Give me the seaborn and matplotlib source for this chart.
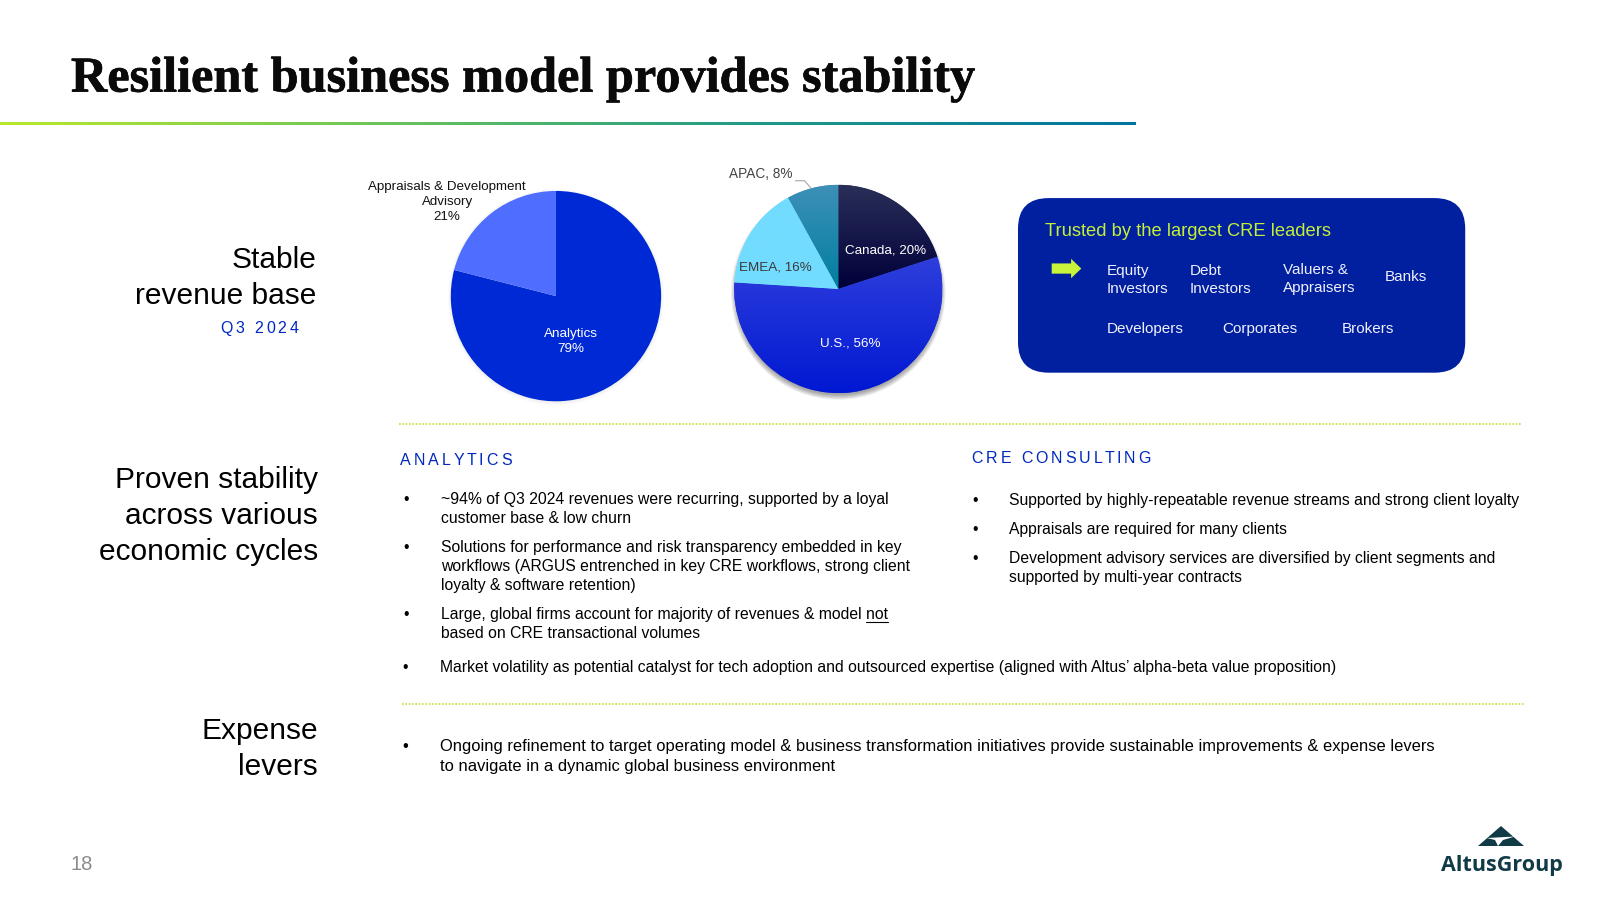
import numpy as np
import matplotlib
matplotlib.use("Agg")
import matplotlib.pyplot as plt
import matplotlib.patheffects as pe
import seaborn as sns
from matplotlib.colors import LinearSegmentedColormap
from matplotlib.font_manager import FontProperties
from matplotlib.patches import Circle, FancyBboxPatch, Polygon

# --- chart data ---
segment_names = ["Analytics", "Appraisals & Development\nAdvisory"]
segment_values = [79, 21]
segment_colors = ["#0029D6", "#4F6EFF"]

region_names = ["Canada", "U.S.", "EMEA", "APAC"]
region_values = [20, 56, 16, 8]
region_top = ["#2A2F58", "#2F3FDC", "#72DCFF", "#3E90B8"]
region_bottom = ["#00003A", "#0018D2", "#72DCFF", "#007FA0"]

title = "Resilient business model provides stability"
left_heads = [["Stable", "revenue base"],
              ["Proven stability", "across various", "economic cycles"],
              ["Expense", "levers"]]
clients_row1 = ["Equity\nInvestors", "Debt\nInvestors", "Valuers &\nAppraisers", "Banks"]
clients_row2 = ["Developers", "Corporates", "Brokers"]

analytics_bullets = [
    ["~94% of Q3 2024 revenues were recurring, supported by a loyal", "customer base & low churn"],
    ["Solutions for performance and risk transparency embedded in key",
     "workflows (ARGUS entrenched in key CRE workflows, strong client",
     "loyalty & software retention)"],
    ["Large, global firms account for majority of revenues & model not",
     "based on CRE transactional volumes"],
]
consulting_bullets = [
    ["Supported by highly-repeatable revenue streams and strong client loyalty"],
    ["Appraisals are required for many clients"],
    ["Development advisory services are diversified by client segments and",
     "supported by multi-year contracts"],
]
market_bullet = "Market volatility as potential catalyst for tech adoption and outsourced expertise (aligned with Altus\u2019 alpha-beta value proposition)"
expense_bullet = ["Ongoing refinement to target operating model & business transformation initiatives provide sustainable improvements & expense levers",
                  "to navigate in a dynamic global business environment"]

sns.set_theme(style="white")
plt.rcParams["font.family"] = ["Liberation Sans", "DejaVu Sans"]

W, H = 1600, 900
S = 1600 / 1567


def p(v):
    return v * S


fig = plt.figure(figsize=(16, 9), dpi=100, facecolor="white")


def pie_axes(cx, cy, r):
    ax = fig.add_axes([(p(cx) - p(r)) / W, 1 - (p(cy) + p(r)) / H, 2 * p(r) / W, 2 * p(r) / H])
    ax.set_xlim(-1, 1)
    ax.set_ylim(-1, 1)
    ax.axis("off")
    return ax


def soft_shadow(ax, dy, strength):
    for k in np.linspace(1.03, 0.98, 8):
        ax.add_patch(Circle((0, dy), k, color="black", alpha=strength, lw=0, clip_on=False))


# first pie
ax1 = pie_axes(544.5, 290, 103)
soft_shadow(ax1, -0.01, 0.012)
ax1.pie(segment_values, colors=segment_colors, startangle=90, counterclock=False, radius=1,
        frame=False, wedgeprops={"linewidth": 0})
ax1.set_xlim(-1, 1)
ax1.set_ylim(-1, 1)

# second pie, wedges filled with vertical gradients
ax2 = pie_axes(821, 283, 102)
soft_shadow(ax2, -0.035, 0.05)
wedges, _ = ax2.pie(region_values, colors=region_top, startangle=90, counterclock=False, radius=1,
                    frame=False, wedgeprops={"linewidth": 0})
for w, c_top, c_bot in zip(wedges, region_top, region_bottom):
    cmap = LinearSegmentedColormap.from_list("g", [c_bot, c_top])
    th = np.radians([w.theta1, w.theta2])
    angs = np.linspace(th[0], th[1], 30)
    ys = np.r_[np.sin(angs), 0]
    im = ax2.imshow(np.linspace(1, 0, 256)[:, None], cmap=cmap, vmin=0, vmax=1, aspect="auto",
                    extent=(-1, 1, ys.min(), ys.max()), zorder=2)
    im.set_clip_path(w)
ax2.set_xlim(-1, 1)
ax2.set_ylim(-1, 1)

# overlay in view coordinates for text and decoration
bg = fig.add_axes([0, 0, 1, 1], zorder=5)
bg.set_xlim(0, W)
bg.set_ylim(H, 0)
bg.axis("off")
bg.patch.set_visible(False)


def txt(x, y, s, size=12, color="black", ha="left", va="center", **kw):
    return bg.text(p(x), p(y), s, fontsize=size, color=color, ha=ha, va=va, **kw)


def tracked(x0, x1, y, s, size, color):
    # letterspaced heading, spacing worked out so the run ends near x1
    rend = fig.canvas.get_renderer()
    prop = FontProperties(family="Liberation Sans", size=size)

    def adv(t):
        a = rend.get_text_width_height_descent(t + "|", prop, False)[0]
        b = rend.get_text_width_height_descent("|", prop, False)[0]
        return a - b

    gap = (p(x1) - p(x0) - adv(s)) / (len(s) - 1)
    for i, ch in enumerate(s):
        bg.text(p(x0) + adv(s[:i]) + i * gap, p(y), ch, fontproperties=prop, color=color, va="center")


# title and rule
t = txt(69.5, 78, title, size=36.2, family="Liberation Serif", weight="bold", color="#0A0A0A")
t.set_path_effects([pe.withStroke(linewidth=0.5, foreground="#0A0A0A")])
rule = LinearSegmentedColormap.from_list("r", ["#B9E82B", "#6CC45A", "#1F9A88", "#00759F"])
bg.imshow(np.linspace(0, 1, 512)[None, :], cmap=rule, aspect="auto",
          extent=(0, p(1112), p(122), p(120)))
bg.set_xlim(0, W)
bg.set_ylim(H, 0)

# left heads
for lines, y0 in zip(left_heads, [255, 470, 716]):
    right = 310 if y0 == 255 else 311.5
    for i, line in enumerate(lines):
        txt(right, y0 + i * 35.3, line, size=21.5, ha="right")
tracked(216, 292, 322, "Q3 2024", 11.5, "#0029C0")

# pie labels
txt(559, 334, f"{segment_names[0]}\n{segment_values[0]}%", size=9.7, color="white", ha="center", linespacing=1.33)
txt(438, 198, f"{segment_names[1]}\n{segment_values[1]}%", size=9.6, color="#111111", ha="center", linespacing=1.33)
txt(867, 245, f"{region_names[0]}, {region_values[0]}%", size=9.6, color="white", ha="center")
txt(833, 336, f"{region_names[1]}, {region_values[1]}%", size=9.6, color="white", ha="center")
txt(759, 262, f"{region_names[2]}, {region_values[2]}%", size=9.7, color="#3A3A3A", ha="center")
txt(745, 170, f"{region_names[3]}, {region_values[3]}%", size=9.85, color="#444444", ha="center")
bg.plot([p(779), p(788), p(794)], [p(177), p(177), p(184)], color="#A6A6A6", lw=0.8)

# client box
rad = p(30)
bg.add_patch(FancyBboxPatch((p(997) + rad, p(194) + rad), p(438) - 2 * rad, p(171) - 2 * rad,
                            boxstyle=f"round,pad={rad},rounding_size={rad}",
                            fc="#0020A0", ec="none"))
txt(1023, 227, "Trusted by the largest CRE leaders", size=13.25, color="#C4EE3A")
ax_, ay_ = 1030, 263
bg.add_patch(Polygon([(p(ax_), p(ay_ - 5)), (p(ax_ + 19), p(ay_ - 5)), (p(ax_ + 19), p(ay_ - 9.5)),
                      (p(ax_ + 29), p(ay_)), (p(ax_ + 19), p(ay_ + 9.5)), (p(ax_ + 19), p(ay_ + 5)),
                      (p(ax_), p(ay_ + 5))], fc="#C8F53A", ec="none"))
for s, x, y in zip(clients_row1, [1083.5, 1165, 1256.5, 1356], [274, 274, 273, 271]):
    txt(x, y, s, size=11, color="#F0F0FA", linespacing=1.35)
for s, x in zip(clients_row2, [1083.5, 1197, 1314]):
    txt(x, 322, s, size=11, color="#F0F0FA")

# dotted separators
bg.plot([p(391), p(1490)], [p(415), p(415)], color="#C5E03A", lw=1.2, ls=(0, (1, 1)))
bg.plot([p(394), p(1494)], [p(689), p(689)], color="#C5E03A", lw=1.2, ls=(0, (1, 1)))

# section heads
tracked(392, 501, 451, "ANALYTICS", 11.5, "#0029C0")
tracked(951.5, 1127, 449, "CRE CONSULTING", 11.5, "#0029C0")


def bullets(items, x_dot, x_text, starts, step=18.7, size=11.3):
    for lines, y0 in zip(items, starts):
        txt(x_dot, y0, "\u2022", size=size)
        for i, line in enumerate(lines):
            txt(x_text, y0 + i * step, line, size=size)


bullets(analytics_bullets, 395, 432, [489, 536, 602])
bullets(consulting_bullets, 952, 988.5, [490.5, 519, 547])
bullets([[market_bullet]], 394, 431, [653.5], size=11.33)
bullets([expense_bullet], 394, 431, [731], step=19.5, size=11.85)
bg.plot([p(848), p(870)], [p(609), p(609)], color="black", lw=0.8)

# page number and logo
txt(69, 846.5, "18", size=14.5, color="#8C8C8C")
bg.add_patch(Polygon([(1501, 826), (1524, 846), (1478, 846)], fc="#0F3A46", ec="none"))
bg.add_patch(Polygon([(1487, 838), (1515, 836.5), (1503, 840), (1498, 846), (1495, 840)], fc="white", ec="none"))
bg.text(1502, 866, "AltusGroup", fontsize=15.5, family="Open Sans", weight="bold", color="#0F3A46",
        ha="center", va="center")

fig.savefig("out.png", dpi=100, facecolor="white")
